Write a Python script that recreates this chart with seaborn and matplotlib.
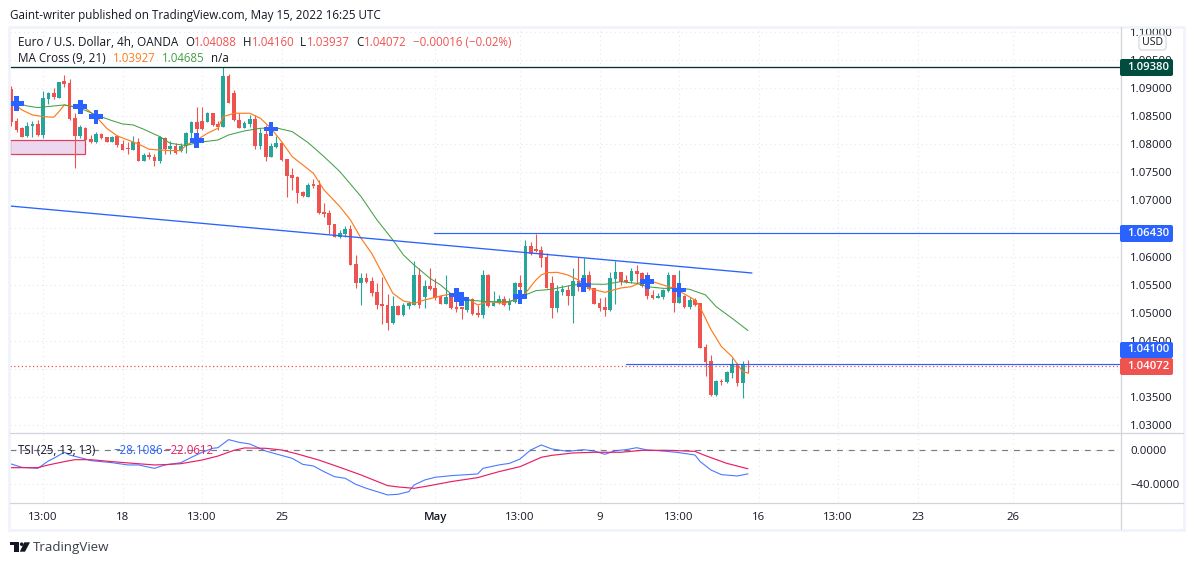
import matplotlib
matplotlib.use('Agg')
import matplotlib.pyplot as plt
import matplotlib.patches as mpatches
from matplotlib.transforms import Affine2D
import numpy as np
import pandas as pd
import seaborn as sns

# candles, 4h bars
opens = [1.08977,1.08419,1.08283,1.08147,1.08324,1.0836,1.08164,1.08799,1.08917,1.08828,
    1.09125,1.09083,1.08473,1.08147,1.08283,1.08087,1.08046,1.08176,1.08123,1.08046,
    1.08147,1.08004,1.07927,1.07897,1.08046,1.07708,1.07809,1.07779,1.07696,1.08117,
    1.07915,1.07969,1.07874,1.07969,1.08206,1.08402,1.08419,1.08402,1.0855,1.0836,
    1.08313,1.09214,1.08917,1.08431,1.08295,1.0836,1.08443,1.07969,1.08182,1.07767,
    1.07957,1.08028,1.07731,1.07453,1.07423,1.07156,1.07067,1.07293,1.07275,1.06795,
    1.06771,1.0658,1.06354,1.06402,1.06491,1.05868,1.05536,1.05613,1.05566,1.05376,
    1.05157,1.05139,1.04813,1.05121,1.04961,1.05121,1.05139,1.05673,1.05275,1.05477,
    1.05435,1.05299,1.05157,1.05275,1.05097,1.05097,1.0505,1.05246,1.04991,1.04961,
    1.05673,1.05121,1.0518,1.05246,1.05139,1.05198,1.05536,1.05287,1.06188,1.06129,
    1.06117,1.05987,1.05536,1.05091,1.05376,1.05406,1.05299,1.05566,1.05477,1.05673,
    1.05435,1.05168,1.05097,1.0505,1.05601,1.0572,1.05584,1.05566,1.05744,1.05702,
    1.05495,1.05317,1.05269,1.05281,1.05394,1.05673,1.0518,1.05299,1.05097,1.05228,
    1.05168,1.04392,1.04143,1.03538,1.03787,1.03775,1.03935,1.04083,1.03757,1.04088]
highs = [1.09036,1.08461,1.08313,1.08402,1.08419,1.08431,1.08953,1.08935,1.08995,1.09113,
    1.09232,1.09155,1.0855,1.08342,1.08301,1.08164,1.08224,1.08206,1.08135,1.08147,
    1.08164,1.08075,1.08046,1.08147,1.08105,1.0785,1.07868,1.07826,1.08147,1.08135,
    1.08064,1.08016,1.08016,1.08224,1.08419,1.08657,1.08668,1.08579,1.08562,1.08419,
    1.0938,1.0925,1.08965,1.0855,1.08419,1.0852,1.0852,1.08283,1.08342,1.08016,
    1.08147,1.08046,1.07731,1.07571,1.07435,1.07174,1.07316,1.07376,1.07364,1.06949,
    1.0683,1.06585,1.06473,1.06544,1.06562,1.06028,1.05714,1.05714,1.05631,1.05524,
    1.05643,1.05335,1.05299,1.05139,1.05168,1.0521,1.05922,1.05803,1.05584,1.05791,
    1.05613,1.05317,1.05673,1.05358,1.05406,1.05097,1.05269,1.05269,1.05139,1.05761,
    1.0569,1.05394,1.05317,1.05299,1.05257,1.05554,1.05673,1.06295,1.06266,1.06402,
    1.06188,1.06058,1.05655,1.05495,1.05495,1.05495,1.05791,1.05987,1.05969,1.0575,
    1.05435,1.05257,1.05275,1.05732,1.05928,1.05732,1.05673,1.05791,1.05851,1.0572,
    1.05732,1.05406,1.05358,1.05418,1.05732,1.05673,1.05761,1.05317,1.05275,1.05257,
    1.05168,1.04445,1.04249,1.03805,1.03822,1.03965,1.0419,1.04101,1.04143,1.0416]
lows = [1.08324,1.08224,1.08123,1.08123,1.08135,1.08147,1.08105,1.08716,1.08811,1.08828,
    1.09024,1.08431,1.07583,1.08105,1.08064,1.08016,1.08028,1.08087,1.08046,1.08034,
    1.07945,1.07897,1.07826,1.07897,1.07708,1.07708,1.07731,1.07619,1.07672,1.07826,
    1.07826,1.07826,1.07862,1.0785,1.08046,1.08206,1.08253,1.08396,1.08324,1.08253,
    1.08313,1.08728,1.08419,1.08295,1.08283,1.08313,1.07909,1.07909,1.07708,1.07767,
    1.07927,1.07708,1.07055,1.07186,1.06961,1.07055,1.07055,1.07216,1.06759,1.067,
    1.06403,1.0634,1.06337,1.06354,1.05851,1.05435,1.05139,1.05524,1.05299,1.05062,
    1.04795,1.04694,1.04801,1.04961,1.04949,1.05062,1.05133,1.0508,1.0508,1.05406,
    1.05228,1.05157,1.05157,1.05062,1.0502,1.0489,1.0502,1.04967,1.04931,1.04902,
    1.05109,1.05121,1.05157,1.05121,1.0505,1.0518,1.05287,1.05257,1.06028,1.06076,
    1.05809,1.05435,1.04914,1.0502,1.05317,1.05139,1.04825,1.05394,1.05435,1.05406,
    1.05157,1.05038,1.04943,1.05038,1.05157,1.05495,1.05524,1.05524,1.05524,1.05465,
    1.0524,1.05246,1.05269,1.05251,1.05376,1.05014,1.0518,1.05091,1.05068,1.05121,
    1.0438,1.03876,1.03526,1.03526,1.03716,1.03745,1.03834,1.03698,1.03478,1.03937]
closes = [1.08402,1.08253,1.08135,1.08324,1.0836,1.08164,1.08817,1.08917,1.08834,1.09113,
    1.09072,1.08449,1.08152,1.08301,1.08075,1.08046,1.08182,1.08105,1.08046,1.08135,
    1.07986,1.07897,1.07909,1.08046,1.07708,1.07809,1.07767,1.07708,1.08123,1.07915,
    1.07969,1.0785,1.07969,1.08206,1.08402,1.08265,1.08265,1.08562,1.08342,1.08313,
    1.09214,1.0874,1.08431,1.08295,1.08384,1.08443,1.07969,1.08194,1.07767,1.07969,
    1.08028,1.0772,1.07435,1.07393,1.07138,1.07079,1.07275,1.07257,1.06783,1.06759,
    1.06563,1.06354,1.06414,1.06485,1.05851,1.05536,1.05613,1.05542,1.05346,1.05139,
    1.05121,1.04813,1.05121,1.04961,1.05139,1.05168,1.05673,1.05139,1.05477,1.05423,
    1.05257,1.05157,1.05275,1.0508,1.05074,1.05062,1.05246,1.04979,1.04961,1.05673,
    1.05121,1.0518,1.05246,1.05139,1.0521,1.05536,1.05453,1.06188,1.0604,1.061,
    1.05981,1.05447,1.05091,1.05394,1.05423,1.05305,1.05566,1.05465,1.05673,1.05423,
    1.05157,1.0508,1.0505,1.05613,1.0572,1.05554,1.05554,1.05744,1.0569,1.05483,
    1.05299,1.05269,1.05299,1.05406,1.05673,1.0518,1.05435,1.05109,1.05228,1.05139,
    1.0438,1.04131,1.03538,1.03787,1.03769,1.03947,1.04089,1.03757,1.04089,1.04072]

# MA Cross lines, read at these bars
ma9_bars = [0,2,4,6,8,9,10,12,14,16,18,20,22,24,26,28,30,32,33,35,37,39,40,42,45,47,49,51,53,55,57,59,62,64,66,68,70,72,74,76,78,81,83,86,88,90,93,95,97,99,100,101,103,105,107,109,112,115,117,119,121,123,125,127,129,130,132,134,136,138,139]
ma9_vals = [1.08757,1.08609,1.0852,1.0849,1.08479,1.08579,1.08698,1.08668,1.08639,1.0849,1.08283,1.08147,1.08075,1.08004,1.07909,1.07897,1.07886,1.07886,1.07986,1.08075,1.08194,1.08283,1.0849,1.0855,1.0855,1.08461,1.08283,1.08046,1.07779,1.07631,1.07482,1.07186,1.06889,1.06651,1.06325,1.06058,1.05702,1.05346,1.0521,1.05168,1.05228,1.05299,1.05335,1.05257,1.05139,1.05198,1.05168,1.05228,1.05346,1.05584,1.05673,1.05714,1.0572,1.05673,1.05584,1.05435,1.05364,1.05441,1.05465,1.05554,1.05554,1.05495,1.05435,1.05335,1.05228,1.05091,1.04706,1.04398,1.0422,1.03953,1.03927]
ma21_bars = [0,3,5,8,10,13,16,19,21,23,25,28,30,33,35,39,41,44,47,50,53,56,59,62,66,69,72,74,76,79,81,83,86,90,94,97,99,102,106,109,112,115,118,120,123,126,128,131,133,136,139]
ma21_vals = [1.08757,1.0868,1.08651,1.0868,1.08698,1.08639,1.0852,1.08419,1.0836,1.08342,1.08265,1.08135,1.08016,1.07975,1.08028,1.08075,1.08164,1.08236,1.08283,1.08289,1.08224,1.08028,1.07779,1.07512,1.07067,1.06652,1.06295,1.06028,1.05851,1.05613,1.05495,1.05335,1.05228,1.05198,1.05198,1.05317,1.05394,1.05418,1.05495,1.05512,1.05507,1.05554,1.05524,1.05465,1.05435,1.05435,1.05418,1.05317,1.05109,1.04902,1.04685]
cross_bars = [1,13,16,35,49,84,85,96,108,120,126]
cross_vals = [1.08722,1.08668,1.0849,1.08064,1.08271,1.05317,1.05246,1.05287,1.05495,1.05554,1.05406]

# TSI panel
tsi_bars = [0,2,5,7,8,10,11,14,15,19,22,24,27,29,32,34,36,38,39,41,43,45,48,50,53,55,57,59,61,63,65,67,71,73,75,76,78,80,83,85,88,89,92,94,96,98,100,102,105,108,110,112,114,116,118,120,123,126,129,130,132,134,137,139]
tsi_vals = [-16.5,-20.4,-21.6,-12.9,-9.8,-2.7,-5.9,-10.6,-12.5,-14.9,-17.6,-17.6,-21.6,-17.6,-14.9,-8.6,-2.7,2.0,2.7,12.2,9.0,7.1,-1.2,-4.7,-9.8,-16.9,-18.8,-25.5,-31.4,-33.3,-40.4,-45.1,-52.9,-52.1,-49.0,-41.2,-35.3,-32.1,-30.2,-29.4,-28.2,-21.6,-17.6,-15.7,-10.6,0.0,5.9,1.2,-1.6,0.4,-1.2,-5.1,-0.8,0.4,2.7,0.0,-1.2,-3.1,-5.9,-13.7,-23.5,-29.0,-30.6,-28.1]
signal_bars = [0,5,7,10,12,15,19,23,27,29,32,36,39,42,44,48,51,54,58,62,66,71,73,76,79,83,88,92,96,100,102,106,110,115,119,124,129,131,135,139]
signal_vals = [-20.8,-20.8,-17.6,-13.7,-11.4,-11.4,-13.7,-15.7,-17.6,-17.2,-16.1,-11.8,-7.1,-0.4,2.4,2.0,0.0,-4.7,-11.8,-20.4,-29.4,-41.9,-43.5,-45.1,-41.9,-37.2,-32.5,-25.5,-19.6,-8.6,-6.3,-3.5,-2.7,-2.7,-0.4,-0.4,-1.6,-6.7,-15.7,-22.1]

# drawings
trend_bars = [-0.25, 139.75]
trend_vals = [1.069, 1.05708]
box_bars = [-0.25, 14]
box_vals = [1.07832, 1.08075]
top_level = 1.0938
mid_level = 1.06425
low_level = 1.04085
last_price = 1.04055

price_ticks = [1.03,1.035,1.04,1.045,1.05,1.055,1.06,1.065,1.07,1.075,1.08,1.085,1.09,1.095,1.10]
# these two sit fully behind the price tags in the picture
hidden_ticks = [1.04, 1.065]
time_bars = [6,21,36,51,80,96,111,126,141,156,171,189]
time_labels = ['13:00','18','13:00','25','May','13:00','9','13:00','16','13:00','23','26']

UP, DOWN = '#26a69a', '#ef5350'
BLUE = '#2962ff'
INK = '#131722'
W, H = 1194, 565

sns.set_theme(style='white')
plt.rcParams['font.family'] = ['Open Sans', 'DejaVu Sans']
plt.rcParams['font.size'] = 8.2

fig = plt.figure(figsize=(W / 100, H / 100), dpi=100, facecolor='white')
px = Affine2D().scale(1, -1).translate(0, H)


def axes_px(left, top, right, bottom):
    return fig.add_axes([left / W, 1 - bottom / H, (right - left) / W, (bottom - top) / H], facecolor='none')


def label(x, y, s, color=INK, size=8.2, ha='left', **kw):
    fig.text(x, y, s, color=color, fontsize=size, ha=ha, va='center', transform=px, zorder=7, **kw)


def hline_px(x0, x1, y, color='#d1d4dc', lw=0.9):
    fig.add_artist(plt.Line2D([x0, x1], [y, y], color=color, lw=lw, transform=px, zorder=1))


ax = axes_px(10, 27, 1120, 432)
ax_tsi = axes_px(10, 433, 1120, 502)

candles = pd.DataFrame({'bar': range(len(opens)), 'open': opens, 'high': highs, 'low': lows, 'close': closes})
candles['color'] = np.where(candles['close'] >= candles['open'], UP, DOWN)

# grid first, under everything
for a in (ax, ax_tsi):
    a.set_axisbelow(True)
    a.grid(True, color='#e6e8ee', ls=(0, (1, 3)), lw=0.8)
    for s in a.spines.values():
        s.set_visible(False)
    a.set_xlim(-0.245, 209.2)
    a.set_xticks(time_bars)

# wicks and bodies
ax.vlines(candles['bar'], candles['low'], candles['high'], colors=candles['color'], lw=0.8, zorder=2)
ax.bar(candles['bar'], (candles['close'] - candles['open']).abs().clip(lower=0.00005),
       bottom=candles[['open', 'close']].min(axis=1), width=0.7, color=candles['color'], lw=0, zorder=2)

sns.lineplot(x=ma9_bars, y=ma9_vals, ax=ax, color='#ff7b1c', lw=0.85, zorder=3)
sns.lineplot(x=ma21_bars, y=ma21_vals, ax=ax, color='#43a047', lw=0.75, zorder=3)
sns.scatterplot(x=cross_bars, y=cross_vals, ax=ax, marker='P', s=105, color=BLUE, edgecolor='none', zorder=4)

ax.plot(trend_bars, trend_vals, color=BLUE, lw=0.95, zorder=3)
ax.add_patch(mpatches.Rectangle((box_bars[0], box_vals[0]), box_bars[1] - box_bars[0], box_vals[1] - box_vals[0],
                                fc='#ecd8ee', ec='#e0405e', lw=0.9, zorder=1.5))
ax.axhline(top_level, color='#00332c', lw=0.95, zorder=3)
ax.plot([79.8, 209.2], [mid_level, mid_level], color=BLUE, lw=0.85, zorder=3)
ax.plot([116, 209.2], [low_level, low_level], color=BLUE, lw=0.85, zorder=3)
ax.axhline(last_price, color=DOWN, lw=0.9, ls=(0, (1, 2)), zorder=3)

ax.set_ylim(1.02879, 1.10085)
ax.set_yticks(price_ticks)
ax.set_yticklabels(['' if v in hidden_ticks else f'{v:.5f}' for v in price_ticks])
ax.yaxis.tick_right()
ax.tick_params(axis='y', length=0, pad=7.2, labelsize=8.2, labelcolor=INK)
ax.tick_params(axis='x', length=0, labelbottom=False)
ax.set_xlabel('')
ax.set_ylabel('')

sns.lineplot(x=tsi_bars, y=tsi_vals, ax=ax_tsi, color=BLUE, lw=0.8, alpha=0.85, zorder=3)
sns.lineplot(x=signal_bars, y=signal_vals, ax=ax_tsi, color='#e91e63', lw=0.85, zorder=3)
ax_tsi.axhline(0, color='#787b86', lw=0.85, ls=(0, (5, 5)), zorder=2)
ax_tsi.set_ylim(-61.2, 20)
ax_tsi.set_yticks([0, -40])
ax_tsi.set_yticklabels(['0.0000', '\u221240.0000'])
ax_tsi.yaxis.tick_right()
ax_tsi.tick_params(axis='y', length=0, pad=7.2, labelsize=8.2, labelcolor=INK)
ax_tsi.set_xticklabels(time_labels)
ax_tsi.tick_params(axis='x', length=0, pad=7.4, labelsize=8.2, labelcolor=INK)
ax_tsi.get_xticklabels()[time_labels.index('May')].set_fontweight('semibold')
ax_tsi.set_xlabel('')
ax_tsi.set_ylabel('')

# frame and panel separators
fig.add_artist(mpatches.Rectangle((9, 27), 1175, 503, fc='none', ec='#f0f3fa', lw=2, transform=px, zorder=1))
fig.add_artist(plt.Line2D([1120.5, 1120.5], [27, 529], color='#d1d4dc', lw=0.9, transform=px, zorder=1))
hline_px(10, 1183, 432.5)
hline_px(10, 1183, 502.5)

# price labels on the right scale
for y0, y1, c, s in [(59, 76, '#004d40', '1.09380'), (225, 242, BLUE, '1.06430'),
                     (342, 358, BLUE, '1.04100'), (358, 375, DOWN, '1.04072')]:
    fig.add_artist(mpatches.FancyBboxPatch((1120, y0), 53, y1 - y0, boxstyle='round,pad=0,rounding_size=2',
                                           fc=c, ec='none', transform=px, zorder=6))
    label(1148, (y0 + y1) / 2, s, color='white', ha='center', fontweight='semibold')
fig.add_artist(mpatches.FancyBboxPatch((1139, 35), 27, 15, boxstyle='round,pad=0,rounding_size=3',
                                       fc='white', ec='#d1d4dc', lw=0.8, transform=px, zorder=6))
label(1152.5, 42.5, 'USD', ha='center', size=7.6)

# header and legends
label(10, 15, 'Gaint-writer published on TradingView.com, May 15, 2022 16:25 UTC', size=8.4)
label(18, 42, 'Euro / U.S. Dollar, 4h, OANDA', size=8.45)
for x, s, c in [(185, 'O', INK), (194, '1.04088', DOWN), (243, 'H', INK), (252, '1.04160', DOWN),
                (300, 'L', INK), (307, '1.03937', DOWN), (356, 'C', INK), (364, '1.04072', DOWN),
                (413, '\u22120.00016 (\u22120.02%)', DOWN)]:
    label(x, 42, s, color=c, size=8.3)
label(18, 59, 'MA Cross (9, 21)', size=8.45)
label(113, 59, '1.03927', color='#ff7b1c', size=8.3)
label(162, 59, '1.04685', color='#43a047', size=8.3)
label(211, 59, 'n/a', size=8.3)
label(18, 450, 'TSI (25, 13, 13)', size=8.3)
label(113, 450, '\u221228.1086', color=BLUE, size=8.3)
label(164, 450, '\u221222.0612', color='#e91e63', size=8.3)

# TradingView mark
for pts in ([(10, 542.3), (19, 542.3), (19, 551.7), (14, 551.7), (14, 545.2), (10, 545.2)],
            [(24.3, 542.3), (30, 542.3), (25, 551.7), (19.8, 551.7)]):
    fig.add_artist(mpatches.Polygon(pts, closed=True, fc=INK, ec='none', transform=px, zorder=6))
fig.add_artist(mpatches.Circle((21.7, 544.2), 1.8, fc=INK, ec='none', transform=px, zorder=6))
label(33, 547.5, 'TradingView', color='#3a3e4a', size=9.6)

fig.savefig('out.png', dpi=100)
